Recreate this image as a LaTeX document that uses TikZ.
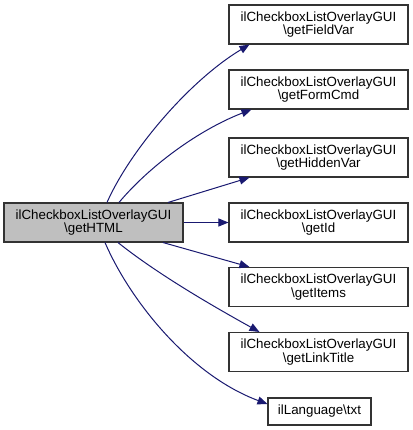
\documentclass[tikz,border=0pt]{standalone}
\usepackage{fontspec}
\setmainfont{Liberation Sans}
\usetikzlibrary{arrows.meta,calc,positioning}
\definecolor{midnight}{RGB}{25,25,112}
\tikzset{
  fn/.style={draw=black!80, line width=0.8pt, fill=white, align=center, inner sep=0pt,
    minimum width=134.25pt, minimum height=29.25pt, font=\fontsize{10}{10}\selectfont},
  cur/.style={fn, fill=black!25},
  call/.style={-{Triangle[length=7.5pt,width=6pt]}, line width=0.75pt, midnight},
}

\begin{document}
\begin{tikzpicture}[x=0.75pt, y=-0.75pt]
  \useasboundingbox (0,0) rectangle (413,430);
  % --- caller ---
  \node[cur] (main) at (93.5,222.5) {ilCheckboxListOverlayGUI\\\textbackslash getHTML};

  % --- callees ---
  \node[fn] (fieldvar)  at (318.5,24.5)  {ilCheckboxListOverlayGUI\\\textbackslash getFieldVar};
  \node[fn] (formcmd)   at (318.5,89.5)  {ilCheckboxListOverlayGUI\\\textbackslash getFormCmd};
  \node[fn] (hiddenvar) at (318.5,157.5) {ilCheckboxListOverlayGUI\\\textbackslash getHiddenVar};
  \node[fn] (getid)     at (318.5,222.5) {ilCheckboxListOverlayGUI\\\textbackslash getId};
  \node[fn] (items)     at (318.5,287)   {ilCheckboxListOverlayGUI\\\textbackslash getItems};
  \node[fn] (linktitle) at (318.5,352)   {ilCheckboxListOverlayGUI\\\textbackslash getLinkTitle};
  \node[fn, minimum width=77.25pt, minimum height=20.25pt] (language) at (319.5,411.5) {ilLanguage\textbackslash txt};

  % --- calls ---
  \draw[call] ($(main.north)+(13.5,0)$) .. controls +(23,-52) and +(-60,36) .. ($(fieldvar.south west)+(21,0)$);
  \draw[call] ($(main.north)+(25.5,0)$) .. controls +(31,-37) and +(-52,20) .. ($(formcmd.south west)+(23,0)$);
  \draw[call] ($(main.north)+(74.5,0)$) -- ($(hiddenvar.south west)+(21,0)$);
  \draw[call] (main.east) -- (getid.west);
  \draw[call] ($(main.south)+(69.5,0)$) -- ($(items.north west)+(21,0)$);
  \draw[call] ($(main.south)+(24.5,0)$) .. controls +(40,32) and +(-45,-25) .. ($(linktitle.north west)+(31,0)$);
  \draw[call] ($(main.south)+(11.5,0)$) .. controls +(25,58) and +(-78,-29) .. ($(language.west)+(0,-7.5)$);
\end{tikzpicture}
\end{document}
